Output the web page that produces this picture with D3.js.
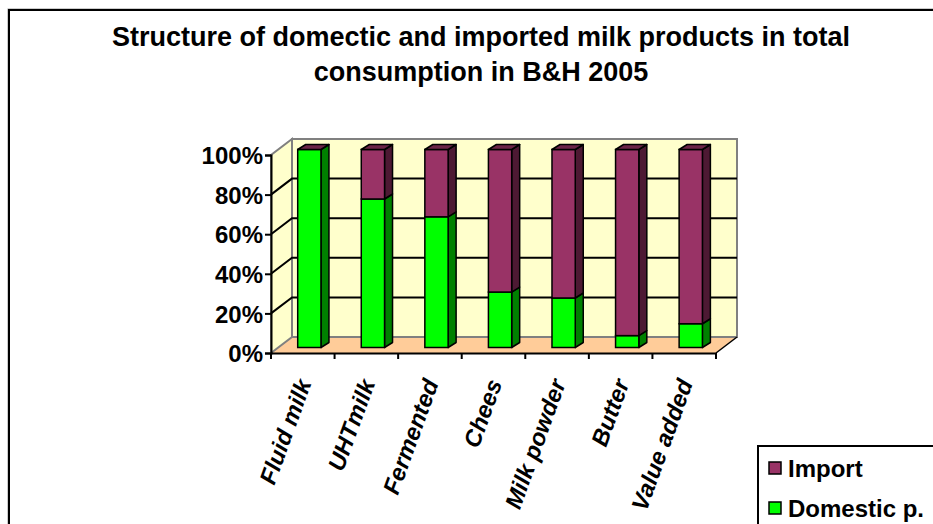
<!DOCTYPE html>
<html>
<head>
<meta charset="utf-8">
<script src="https://cdn.jsdelivr.net/npm/d3@7"></script>
<style>
  html, body { margin: 0; padding: 0; background: #fff; }
  svg { display: block; }
  text { font-family: "Liberation Sans", Arial, sans-serif; font-weight: bold; fill: #000; }
</style>
</head>
<body>
<svg id="chart" width="933" height="524"></svg>
<script>
// Milk product categories and the share of domestic vs imported supply (%)
const categories = ["Fluid milk", "UHTmilk", "Fermented", "Chees", "Milk powder", "Butter", "Value added"];
const domestic = [100, 75, 66, 28, 25, 6, 12];
const imported = [0, 25, 34, 72, 75, 94, 88];
const yTicks = [0, 20, 40, 60, 80, 100];
const seriesNames = ["Import", "Domestic p."];

const titleLines = [
  "Structure of domectic and imported milk products in total",
  "consumption in B&H 2005"
];

const colors = {
  domestic: { front: "#00ff00", side: "#008000", top: "#00c000" },
  imported: { front: "#993366", side: "#4d1933", top: "#6b2447" },
  wall: "#ffffcc",
  floor: "#ffcc99",
  wallEdge: "#808080"
};

const svg = d3.select("#chart");

// outer chart frame
svg.append("rect").attr("x", 8).attr("y", 9).attr("width", 940).attr("height", 530)
  .attr("fill", "none").attr("stroke", "#999").attr("stroke-width", 1);
svg.append("rect").attr("x", 9).attr("y", 10).attr("width", 940).attr("height", 530)
  .attr("fill", "none").attr("stroke", "#000").attr("stroke-width", 2);

// title
svg.append("g").selectAll("text").data(titleLines).join("text")
  .attr("x", 481).attr("y", (d, i) => 46 + i * 35)
  .attr("text-anchor", "middle").attr("font-size", 27)
  .text(d => d);

// scales
const x = d3.scaleBand().domain(categories).range([271, 716]).padding(0);
const y = d3.scaleLinear().domain([0, 100]).range([353, 155]);

// depth offsets of the back wall and of the bars
const wallDx = 21, wallDy = -16;
const barDx = 8, barDy = -5;
const barShift = -5.5;   // bars stand slightly behind the front plane

const x0 = x.range()[0], x1 = x.range()[1];
const line = d3.line();

const walls = svg.append("g");
// floor
walls.append("path")
  .attr("d", line([[x0, y(0)], [x1, y(0)], [x1 + wallDx, y(0) + wallDy], [x0 + wallDx, y(0) + wallDy]]) + "Z")
  .attr("fill", colors.floor).attr("stroke", "none");
// side wall
walls.append("path")
  .attr("d", line([[x0, y(0)], [x0, y(100)], [x0 + wallDx, y(100) + wallDy], [x0 + wallDx, y(0) + wallDy]]) + "Z")
  .attr("fill", colors.wall).attr("stroke", colors.wallEdge).attr("stroke-width", 2);
// back wall
walls.append("rect")
  .attr("x", x0 + wallDx).attr("y", y(100) + wallDy)
  .attr("width", x1 - x0).attr("height", y(0) - y(100))
  .attr("fill", colors.wall).attr("stroke", colors.wallEdge).attr("stroke-width", 2);
// floor edges
walls.append("path")
  .attr("d", line([[x1, y(0)], [x1 + wallDx, y(0) + wallDy]]))
  .attr("stroke", "#000").attr("stroke-width", 1.5).attr("fill", "none");

// gridlines
const grid = svg.append("g");
yTicks.filter(t => t > 0 && t < 100).forEach(t => {
  grid.append("path")
    .attr("d", line([[x0, y(t)], [x0 + wallDx, y(t) + wallDy], [x1 + wallDx, y(t) + wallDy]]))
    .attr("fill", "none").attr("stroke", "#000").attr("stroke-width", 2);
});

// y axis
const yAxis = svg.append("g").attr("transform", `translate(${x0},0)`)
  .call(d3.axisLeft(y).tickValues(yTicks).tickFormat(d => d + "%").tickSize(6).tickPadding(2));
yAxis.select(".domain").attr("stroke", "#000").attr("stroke-width", 2);
yAxis.selectAll(".tick line").attr("stroke", "#000").attr("stroke-width", 2);
yAxis.selectAll(".tick text").attr("font-size", 24).attr("font-family", "Liberation Sans, Arial, sans-serif")
  .attr("font-weight", "bold").attr("fill", "#000").attr("dy", "0.36em");

// x axis
const xAxis = svg.append("g").attr("transform", `translate(0,${y(0)})`)
  .call(d3.axisBottom(x).tickSize(0).tickFormat(""));
xAxis.select(".domain").attr("stroke", "#000").attr("stroke-width", 2);
xAxis.selectAll(".tick").remove();
const boundaries = categories.map(c => x(c)).concat([x1]);
xAxis.selectAll("line.cat").data(boundaries).join("line").attr("class", "cat")
  .attr("x1", d => d).attr("x2", d => d).attr("y1", 0).attr("y2", 6)
  .attr("stroke", "#000").attr("stroke-width", 2);

// category labels, rotated
svg.append("g").selectAll("text").data(categories).join("text")
  .attr("transform", d => `translate(${x(d) + x.bandwidth() / 2 + 9},${y(0) + 30}) rotate(-70)`)
  .attr("text-anchor", "end").attr("font-size", 23.5).attr("font-style", "italic")
  .text(d => d);

// stacked 3D bars
const barW = x.bandwidth() * 0.366;
const barOff = x.bandwidth() * 0.42;
const bars = svg.append("g");
categories.forEach((c, i) => {
  const bx = x(c) + barOff;
  const segs = [
    { v0: 0, v1: domestic[i], col: colors.domestic },
    { v0: domestic[i], v1: domestic[i] + imported[i], col: colors.imported }
  ];
  segs.forEach(s => {
    if (s.v1 - s.v0 <= 0) return;
    const yt = y(s.v1) + barShift, yb = y(s.v0) + barShift;
    // side face
    bars.append("path")
      .attr("d", line([[bx + barW, yb], [bx + barW, yt], [bx + barW + barDx, yt + barDy], [bx + barW + barDx, yb + barDy]]) + "Z")
      .attr("fill", s.col.side).attr("stroke", "#000").attr("stroke-width", 1.5).attr("stroke-linejoin", "round");
    // front face
    bars.append("rect").attr("x", bx).attr("y", yt).attr("width", barW).attr("height", yb - yt)
      .attr("fill", s.col.front).attr("stroke", "#000").attr("stroke-width", 1.5);
  });
  // top cap of the stack, in the colour of the top series
  const yt = y(domestic[i] + imported[i]) + barShift;
  bars.append("path")
    .attr("d", line([[bx, yt], [bx + barDx, yt + barDy], [bx + barW + barDx, yt + barDy], [bx + barW, yt]]) + "Z")
    .attr("fill", colors.imported.top).attr("stroke", "#000").attr("stroke-width", 1.5).attr("stroke-linejoin", "round");
});

// legend
const legend = svg.append("g");
legend.append("rect").attr("x", 758).attr("y", 446).attr("width", 200).attr("height", 100)
  .attr("fill", "#fff").attr("stroke", "#000").attr("stroke-width", 2);
const legendColors = [colors.imported.front, colors.domestic.front];
seriesNames.forEach((n, i) => {
  const ly = 468 + i * 40;
  legend.append("rect").attr("x", 769).attr("y", ly - 6).attr("width", 12).attr("height", 12)
    .attr("fill", legendColors[i]).attr("stroke", "#000").attr("stroke-width", 1.5);
  legend.append("text").attr("x", 788).attr("y", ly).attr("dy", "0.36em")
    .attr("font-size", 24).text(n);
});
</script>
</body>
</html>
